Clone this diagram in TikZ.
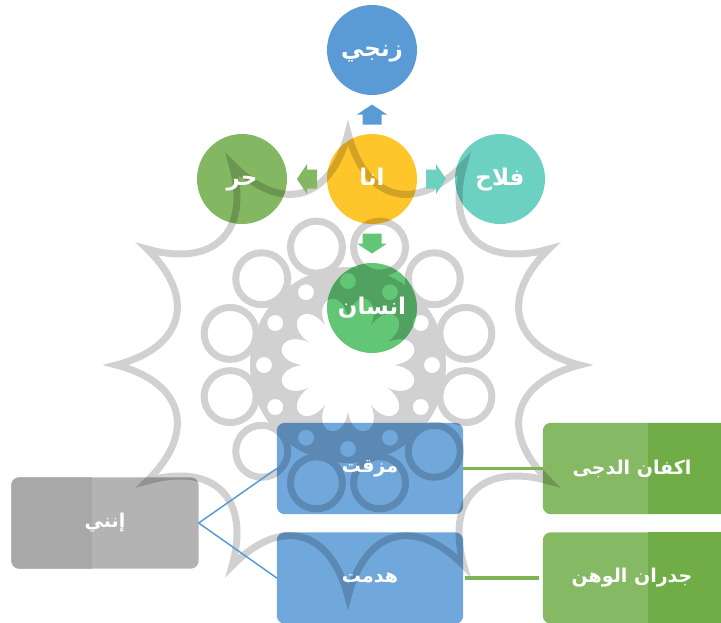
\documentclass[tikz,border=0pt]{standalone}
\usepackage{fontspec}
\usetikzlibrary{calc}
\TeXXeTstate=1
\newfontfamily\arabicfont[Script=Arabic]{DejaVu Sans}
\newcommand{\arb}[1]{{\arabicfont\bfseries\beginR #1\endR}}

\definecolor{cblue}{HTML}{5B9BD5}
\definecolor{cyellow}{HTML}{FFC62B}
\definecolor{cgreen}{HTML}{84B762}
\definecolor{cteal}{HTML}{6DD1C2}
\definecolor{cleaf}{HTML}{63C676}
\definecolor{cbox}{HTML}{71A8DC}
\definecolor{cgray}{HTML}{B3B3B3}
\definecolor{cgrayD}{HTML}{A8A8A8}
\definecolor{cgreenB}{HTML}{86B964}
\definecolor{cgreenD}{HTML}{70AD47}
\definecolor{cline}{HTML}{7FB356}
\colorlet{cmark}{black!18}

\pgfdeclarelayer{back}
\pgfdeclarelayer{marks}
\pgfsetlayers{back,marks,main}

\begin{document}
\begin{tikzpicture}[x=1pt, y=-1pt, line join=round, line cap=round,
    circ/.style={circle, minimum size=90pt, inner sep=0pt, text=white, text height=14pt, text depth=2pt, font=\fontsize{23}{27}\selectfont},
    box/.style={rectangle, minimum height=91pt, inner sep=0pt, text=white, font=\fontsize{19}{23}\selectfont}]
    \useasboundingbox (0,0) rectangle (721,622);
    \def\r{45}% rayon des cercles
    % cercles
    \node[circ] (zanji) at (372,50) {\arb{زنجي}};
    \node[circ] (ana) at (372,179) {\arb{انا}};
    \node[circ] (hurr) at (242,179) {\arb{حر}};
    \node[circ] (fallah) at (500,179) {\arb{فلاح}};
    \node[circ] (insan) at (372,308) {\arb{انسان}};
    % cadres
    \node[box, minimum width=187pt] (anni) at (105,523) {\arb{إنني}};
    \node[box, minimum width=186pt] (mazzaqat) at (370,468.5) {\arb{مزقت}};
    \node[box, minimum width=186pt] (hadamat) at (370,578) {\arb{هدمت}};
    \node[box, minimum width=178pt] (akfan) at (632,468.5) {\arb{اكفان الدجى}};
    \node[box, minimum width=178pt] (judran) at (632,578) {\arb{جدران الوهن}};
    \begin{pgfonlayer}{back}
        \foreach \n/\c in {zanji/cblue,ana/cyellow,hurr/cgreen,fallah/cteal,insan/cleaf}
        \fill[\c] (\n) circle (\r);
        \foreach \n/\c/\e in {anni/cgray/0,mazzaqat/cbox/0,hadamat/cbox/0,akfan/cgreenB/20,judran/cgreenB/20}
        \fill[\c, rounded corners=8pt] (\n.south west) rectangle ([xshift=\e pt]\n.north east);
        \begin{scope}
            \clip[rounded corners=8pt] (anni.south west) rectangle (anni.north east);
            \fill[cgrayD] (anni.south west) rectangle ([xshift=81pt]anni.north west);
        \end{scope}
        \foreach \n in {akfan,judran}
        \fill[cgreenD] ([xshift=105pt]\n.south west) rectangle ([xshift=20pt]\n.north east);
    \end{pgfonlayer}
    % rosace
    \begin{pgfonlayer}{marks}
        \begin{scope}[transparency group, blend mode=multiply]
            \begin{scope}[shift={(348,365)}, draw=cmark, fill=cmark, line width=7pt]
                \draw (0:232) \foreach \i in {0,...,11}{ .. controls ({30*\i+6}:165) and ({30*\i+24}:165) .. ({30*\i+30}:232)} -- cycle;
                \foreach \i in {0,...,11}
                \draw ({30*\i+15}:122) circle (26);
                \fill[even odd rule] (0,0) circle (98)
                (0:46) \foreach \i in {0,...,11}{ .. controls ({30*\i+3}:78) and ({30*\i+27}:78) .. ({30*\i+30}:46)}
                \foreach \i in {0,...,11}{ ({30*\i}:84) circle (8)};
            \end{scope}
        \end{scope}
    \end{pgfonlayer}
    % fleches
    \foreach \n/\a/\c in {zanji/90/cblue,hurr/180/cgreen,fallah/0/cteal,insan/270/cleaf}
    \fill[\c, shift={($(ana)!0.5!(\n)$)}, rotate=\a] (-10,-9.5) -- (0,-9.5) -- (0,-15) -- (10,0) -- (0,15) -- (0,9.5) -- (-10,9.5) -- cycle;
    % liaisons
    \draw[cblue, line width=1.5pt] (mazzaqat.west) -- (anni.east) -- (hadamat.west);
    \draw[cline, line width=3.5pt, line cap=butt, shorten <=2pt, shorten >=4pt] (mazzaqat.east) -- (akfan.west) (hadamat.east) -- (judran.west);
\end{tikzpicture}
\end{document}
